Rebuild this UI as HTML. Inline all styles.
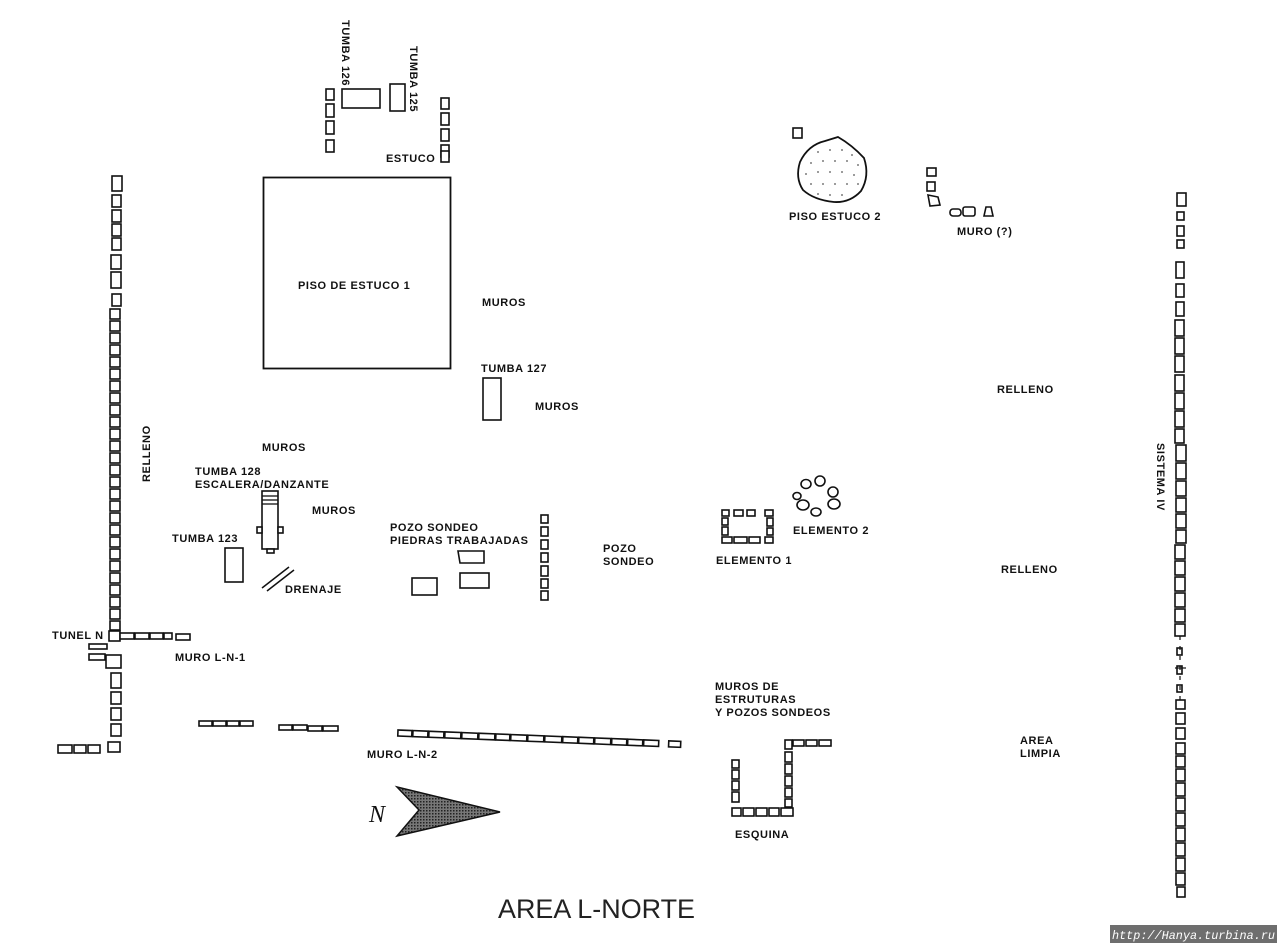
<!DOCTYPE html>
<html><head><meta charset="utf-8"><style>
html,body{margin:0;padding:0;background:#fff;}
svg{display:block;}
text{font-family:"Liberation Sans",sans-serif;font-weight:bold;font-size:11px;letter-spacing:0.6px;fill:#111;}
.s{fill:#fff;stroke:#111;stroke-width:1.6;}
</style></head><body>
<svg width="1280" height="945" viewBox="0 0 1280 945" xmlns="http://www.w3.org/2000/svg">
<defs>
<pattern id="hat" width="3" height="3" patternUnits="userSpaceOnUse"><rect width="3" height="3" fill="#777"/><rect width="1.5" height="1.5" fill="#222"/></pattern>
</defs>
<rect width="1280" height="945" fill="#fff"/>

<!-- Tumbas 126/125 -->
<text transform="translate(342,20) rotate(90)">TUMBA 126</text>
<text transform="translate(410,46) rotate(90)">TUMBA 125</text>
<rect class="s" x="342" y="89" width="38" height="19"/>
<rect class="s" x="390" y="84" width="15" height="27"/>
<g class="s">
<rect x="326" y="89" width="8" height="11"/><rect x="326" y="104" width="8" height="13"/><rect x="326" y="121" width="8" height="13"/><rect x="326" y="140" width="8" height="12"/>
<rect x="441" y="98" width="8" height="11"/><rect x="441" y="113" width="8" height="12"/><rect x="441" y="129" width="8" height="12"/><rect x="441" y="145" width="8" height="12"/><rect x="441" y="151" width="8" height="11"/>
</g>
<text x="386" y="162">ESTUCO</text>

<!-- Piso de estuco 1 -->
<rect x="263.5" y="177.5" width="187" height="191" fill="none" stroke="#111" stroke-width="1.8"/>
<text x="298" y="289">PISO DE ESTUCO 1</text>

<text x="482" y="306">MUROS</text>
<text x="481" y="372">TUMBA 127</text>
<rect class="s" x="483" y="378" width="18" height="42"/>
<text x="535" y="410">MUROS</text>

<!-- Left wall -->
<g class="s">
<rect x="112" y="176" width="10" height="15"/>
<rect x="112" y="195" width="9" height="12"/>
<rect x="112" y="210" width="9" height="12"/>
<rect x="112" y="224" width="9" height="12"/>
<rect x="112" y="238" width="9" height="12"/>
<rect x="111" y="255" width="10" height="14"/>
<rect x="111" y="272" width="10" height="16"/>
<rect x="112" y="294" width="9" height="12"/>
<rect x="110" y="309" width="10" height="10"/>
<rect x="110" y="321" width="10" height="10"/>
<rect x="110" y="333" width="10" height="10"/>
<rect x="110" y="345" width="10" height="10"/>
<rect x="110" y="357" width="10" height="10"/>
<rect x="110" y="369" width="10" height="10"/>
<rect x="110" y="381" width="10" height="10"/>
<rect x="110" y="393" width="10" height="10"/>
<rect x="110" y="405" width="10" height="10"/>
<rect x="110" y="417" width="10" height="10"/>
<rect x="110" y="429" width="10" height="10"/>
<rect x="110" y="441" width="10" height="10"/>
<rect x="110" y="453" width="10" height="10"/>
<rect x="110" y="465" width="10" height="10"/>
<rect x="110" y="477" width="10" height="10"/>
<rect x="110" y="489" width="10" height="10"/>
<rect x="110" y="501" width="10" height="10"/>
<rect x="110" y="513" width="10" height="10"/>
<rect x="110" y="525" width="10" height="10"/>
<rect x="110" y="537" width="10" height="10"/>
<rect x="110" y="549" width="10" height="10"/>
<rect x="110" y="561" width="10" height="10"/>
<rect x="110" y="573" width="10" height="10"/>
<rect x="110" y="585" width="10" height="10"/>
<rect x="110" y="597" width="10" height="10"/>
<rect x="110" y="609" width="10" height="10"/>
<rect x="110" y="621" width="10" height="9"/>
<rect x="109" y="631" width="11" height="10"/>
<rect x="120" y="633" width="14" height="6"/><rect x="135" y="633" width="14" height="6"/><rect x="150" y="633" width="13" height="6"/><rect x="164" y="633" width="8" height="6"/><rect x="176" y="634" width="14" height="6"/>
<rect x="89" y="644" width="18" height="5"/>
<rect x="89" y="654" width="16" height="6"/>
<rect x="106" y="655" width="15" height="13"/>
<rect x="111" y="673" width="10" height="15"/>
<rect x="111" y="692" width="10" height="12"/>
<rect x="111" y="708" width="10" height="12"/>
<rect x="111" y="724" width="10" height="12"/>
<rect x="108" y="742" width="12" height="10"/>
<rect x="58" y="745" width="14" height="8"/><rect x="74" y="745" width="12" height="8"/><rect x="88" y="745" width="12" height="8"/>
</g>
<text transform="translate(150,482) rotate(-90)">RELLENO</text>
<text x="52" y="639">TUNEL N</text>
<text x="175" y="661">MURO L-N-1</text>

<!-- Muro L-N-1 segments -->
<g class="s" stroke-width="1.3">
<rect x="199" y="721" width="13" height="5"/><rect x="213" y="721" width="13" height="5"/><rect x="227" y="721" width="12" height="5"/><rect x="240" y="721" width="13" height="5"/>
<rect x="279" y="725" width="13" height="5"/><rect x="293" y="725" width="14" height="5"/><rect x="308" y="726" width="14" height="5"/><rect x="323" y="726" width="15" height="5"/>
</g>

<!-- Muro L-N-2 -->
<g class="s" stroke-width="1.3" transform="translate(398,730) rotate(2.3)">
<rect x="0" y="0" width="14" height="6"/><rect x="15" y="0" width="15" height="6"/><rect x="31" y="0" width="15" height="6"/><rect x="47" y="0" width="16" height="6"/><rect x="64" y="0" width="16" height="6"/><rect x="81" y="0" width="16" height="6"/><rect x="98" y="0" width="14" height="6"/><rect x="113" y="0" width="16" height="6"/><rect x="130" y="0" width="16" height="6"/><rect x="147" y="0" width="17" height="6"/><rect x="165" y="0" width="15" height="6"/><rect x="181" y="0" width="15" height="6"/><rect x="197" y="0" width="16" height="6"/><rect x="214" y="0" width="15" height="6"/><rect x="230" y="0" width="15" height="6"/><rect x="246" y="0" width="15" height="6"/><rect x="271" y="0" width="12" height="6"/>
</g>
<text x="367" y="758">MURO L-N-2</text>

<!-- North arrow -->
<polygon points="397,787 500,812 397,836 419,810" fill="url(#hat)" stroke="#111" stroke-width="1.5"/>
<text x="369" y="822" style="font-family:'Liberation Serif',serif;font-style:italic;font-weight:normal;font-size:24px;letter-spacing:0;">N</text>

<!-- Tumba 128 -->
<text x="262" y="451">MUROS</text>
<text x="195" y="475">TUMBA 128</text>
<text x="195" y="488">ESCALERA/DANZANTE</text>
<g class="s" stroke-width="1.5">
<rect x="262" y="491" width="16" height="58"/>
<rect x="257" y="527" width="5" height="6"/><rect x="278" y="527" width="5" height="6"/>
<rect x="267" y="549" width="7" height="4"/>
</g>
<line x1="262" y1="496" x2="278" y2="496" stroke="#111" stroke-width="1.3"/>
<line x1="262" y1="500" x2="278" y2="500" stroke="#111" stroke-width="1.3"/>
<line x1="262" y1="504" x2="278" y2="504" stroke="#111" stroke-width="1.3"/>
<text x="312" y="514">MUROS</text>
<text x="172" y="542">TUMBA 123</text>
<rect class="s" x="225" y="548" width="18" height="34"/>
<line x1="262" y1="588" x2="289" y2="567" stroke="#111" stroke-width="1.5"/>
<line x1="267" y1="591" x2="294" y2="570" stroke="#111" stroke-width="1.5"/>
<text x="285" y="593">DRENAJE</text>

<!-- Pozo sondeo piedras -->
<text x="390" y="531">POZO SONDEO</text>
<text x="390" y="544">PIEDRAS TRABAJADAS</text>
<g class="s">
<rect x="412" y="578" width="25" height="17"/>
<polygon points="458,551 484,551 484,563 460,563"/>
<rect x="460" y="573" width="29" height="15"/>
<rect x="541" y="515" width="7" height="8"/><rect x="541" y="527" width="7" height="9"/><rect x="541" y="540" width="7" height="9"/><rect x="541" y="553" width="7" height="9"/><rect x="541" y="566" width="7" height="10"/><rect x="541" y="579" width="7" height="9"/><rect x="541" y="591" width="7" height="9"/>
</g>
<text x="603" y="552">POZO</text>
<text x="603" y="565">SONDEO</text>

<!-- Piso estuco 2 -->
<rect class="s" x="793" y="128" width="9" height="10"/>
<path d="M838,137 Q852,145 864,158 Q870,176 861,191 Q850,203 834,202 Q814,200 803,190 Q795,178 800,162 Q808,145 825,141 Z" fill="#fff" stroke="#111" stroke-width="1.8"/>
<g fill="#555">
<circle cx="818" cy="152" r="0.9"/><circle cx="830" cy="150" r="0.9"/><circle cx="842" cy="150" r="0.9"/><circle cx="852" cy="155" r="0.9"/>
<circle cx="811" cy="163" r="0.9"/><circle cx="823" cy="161" r="0.9"/><circle cx="835" cy="161" r="0.9"/><circle cx="847" cy="161" r="0.9"/><circle cx="858" cy="165" r="0.9"/>
<circle cx="806" cy="174" r="0.9"/><circle cx="818" cy="172" r="0.9"/><circle cx="830" cy="172" r="0.9"/><circle cx="842" cy="172" r="0.9"/><circle cx="854" cy="175" r="0.9"/>
<circle cx="811" cy="184" r="0.9"/><circle cx="823" cy="184" r="0.9"/><circle cx="835" cy="184" r="0.9"/><circle cx="847" cy="184" r="0.9"/><circle cx="858" cy="184" r="0.9"/>
<circle cx="818" cy="194" r="0.9"/><circle cx="830" cy="195" r="0.9"/><circle cx="842" cy="195" r="0.9"/>
</g>
<text x="789" y="220">PISO ESTUCO 2</text>
<g class="s" stroke-width="1.5">
<rect x="927" y="168" width="9" height="8"/>
<rect x="927" y="182" width="8" height="9"/>
<polygon points="928,195 938,197 940,205 930,206"/>
<rect x="950" y="209" width="11" height="7" rx="3"/>
<rect x="963" y="207" width="12" height="9" rx="2"/>
<polygon points="986,207 991,207 993,216 984,216"/>
</g>
<text x="957" y="235">MURO (?)</text>

<!-- Elementos -->
<g class="s" stroke-width="1.5">
<rect x="722" y="510" width="7" height="6"/><rect x="734" y="510" width="9" height="6"/><rect x="747" y="510" width="8" height="6"/><rect x="765" y="510" width="8" height="6"/>
<rect x="722" y="518" width="6" height="7"/><rect x="722" y="527" width="6" height="8"/>
<rect x="767" y="518" width="6" height="8"/><rect x="767" y="528" width="6" height="7"/>
<rect x="722" y="537" width="10" height="6"/><rect x="734" y="537" width="13" height="6"/><rect x="749" y="537" width="11" height="6"/><rect x="765" y="537" width="8" height="6"/>
</g>
<text x="716" y="564">ELEMENTO 1</text>
<g class="s" stroke-width="1.5">
<ellipse cx="806" cy="484" rx="5" ry="4.5"/>
<ellipse cx="820" cy="481" rx="5" ry="5"/>
<ellipse cx="833" cy="492" rx="5" ry="5"/>
<ellipse cx="834" cy="504" rx="6" ry="5"/>
<ellipse cx="816" cy="512" rx="5" ry="4"/>
<ellipse cx="803" cy="505" rx="6" ry="5"/>
<ellipse cx="797" cy="496" rx="4" ry="3.5"/>
</g>
<text x="793" y="534">ELEMENTO 2</text>

<text x="997" y="393">RELLENO</text>
<text x="1001" y="573">RELLENO</text>
<text x="715" y="690">MUROS DE</text>
<text x="715" y="703">ESTRUTURAS</text>
<text x="715" y="716">Y POZOS SONDEOS</text>
<text x="1020" y="744">AREA</text>
<text x="1020" y="757">LIMPIA</text>

<!-- Esquina -->
<g class="s" stroke-width="1.5">
<rect x="732" y="760" width="7" height="8"/><rect x="732" y="770" width="7" height="9"/><rect x="732" y="781" width="7" height="9"/><rect x="732" y="792" width="7" height="10"/>
<rect x="732" y="808" width="9" height="8"/><rect x="743" y="808" width="11" height="8"/><rect x="756" y="808" width="11" height="8"/><rect x="769" y="808" width="10" height="8"/><rect x="781" y="808" width="12" height="8"/>
<rect x="785" y="740" width="7" height="9"/><rect x="785" y="752" width="7" height="10"/><rect x="785" y="764" width="7" height="10"/><rect x="785" y="776" width="7" height="10"/><rect x="785" y="788" width="7" height="9"/><rect x="785" y="799" width="7" height="8"/>
<rect x="793" y="740" width="11" height="6"/><rect x="806" y="740" width="11" height="6"/><rect x="819" y="740" width="12" height="6"/>
</g>
<text x="735" y="838">ESQUINA</text>

<!-- Right wall Sistema IV -->
<g class="s" stroke-width="1.5">
<rect x="1177" y="193" width="9" height="13"/>
<rect x="1177" y="212" width="7" height="8"/><rect x="1177" y="226" width="7" height="10"/><rect x="1177" y="240" width="7" height="8"/>
<rect x="1176" y="262" width="8" height="16"/><rect x="1176" y="284" width="8" height="13"/><rect x="1176" y="302" width="8" height="14"/>
<rect x="1175" y="320" width="9" height="16"/><rect x="1175" y="338" width="9" height="16"/><rect x="1175" y="356" width="9" height="16"/><rect x="1175" y="375" width="9" height="16"/><rect x="1175" y="393" width="9" height="16"/>
<rect x="1175" y="411" width="9" height="16"/><rect x="1175" y="429" width="9" height="14"/><rect x="1176" y="445" width="10" height="16"/><rect x="1176" y="463" width="10" height="16"/><rect x="1176" y="481" width="10" height="15"/>
<rect x="1176" y="498" width="10" height="14"/><rect x="1176" y="514" width="10" height="14"/><rect x="1176" y="530" width="10" height="13"/><rect x="1175" y="545" width="10" height="14"/><rect x="1175" y="561" width="10" height="14"/>
<rect x="1175" y="577" width="10" height="14"/><rect x="1175" y="593" width="10" height="14"/><rect x="1175" y="609" width="10" height="13"/><rect x="1175" y="624" width="10" height="12"/>
<rect x="1177" y="648" width="5" height="7"/><rect x="1177" y="666" width="5" height="8"/><rect x="1177" y="685" width="5" height="7"/>
<rect x="1176" y="700" width="9" height="9"/><rect x="1176" y="713" width="9" height="11"/><rect x="1176" y="728" width="9" height="11"/>
<rect x="1176" y="743" width="9" height="11"/><rect x="1176" y="756" width="9" height="11"/><rect x="1176" y="769" width="9" height="12"/><rect x="1176" y="783" width="9" height="13"/>
<rect x="1176" y="798" width="9" height="13"/><rect x="1176" y="813" width="9" height="13"/><rect x="1176" y="828" width="9" height="13"/><rect x="1176" y="843" width="9" height="13"/>
<rect x="1176" y="858" width="9" height="13"/><rect x="1176" y="873" width="9" height="12"/><rect x="1177" y="887" width="8" height="10"/>
</g>
<line x1="1180" y1="636" x2="1180" y2="700" stroke="#111" stroke-width="1.2" stroke-dasharray="4,6"/>
<line x1="1175" y1="668" x2="1186" y2="668" stroke="#111" stroke-width="1.2"/>
<text transform="translate(1157,443) rotate(90)">SISTEMA IV</text>

<!-- Title -->
<text x="498" y="918" textLength="197" lengthAdjust="spacingAndGlyphs" style="font-weight:normal;font-size:27px;letter-spacing:0;fill:#222;">AREA L-NORTE</text>

<!-- Watermark -->
<rect x="1110" y="925" width="167" height="18" fill="#6e6e6e"/>
<text x="1112" y="939" textLength="163" lengthAdjust="spacingAndGlyphs" style="font-family:'Liberation Mono',monospace;font-style:italic;font-weight:normal;font-size:12px;letter-spacing:0;fill:#fff;">http://Hanya.turbina.ru</text>
</svg>
</body></html>
